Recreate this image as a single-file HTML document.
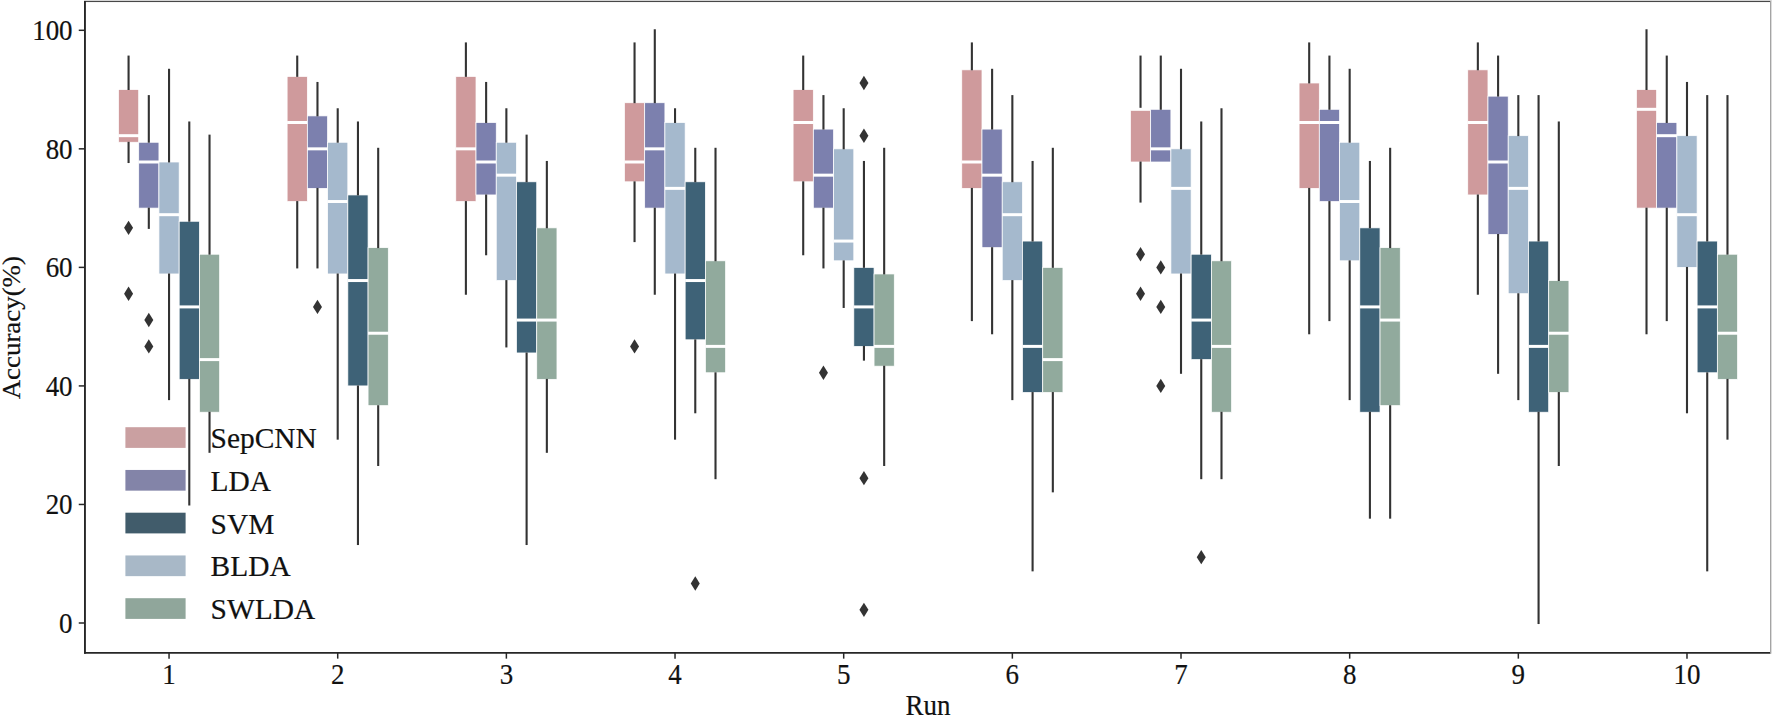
<!DOCTYPE html>
<html><head><meta charset="utf-8"><title>Accuracy by Run</title>
<style>html,body{margin:0;padding:0;background:#fff}svg{display:block}</style></head>
<body>
<svg width="1772" height="718" viewBox="0 0 1772 718">
<rect width="1772" height="718" fill="#fff"/>
<rect x="118.45" y="89.57" width="20.24" height="52.69" fill="#cf9a9c" stroke="#fff" stroke-width="0.75"/>
<line x1="128.57" x2="128.57" y1="56.62" y2="88.97" stroke="#333333" stroke-width="2.1" stroke-linecap="square"/>
<line x1="128.57" x2="128.57" y1="142.86" y2="162.00" stroke="#333333" stroke-width="2.1" stroke-linecap="square"/>
<line x1="118.45" x2="139.09" y1="135.68" y2="135.68" stroke="#fff" stroke-width="3.0"/>
<path d="M128.57 220.65L133.07 227.85L128.57 235.05L124.07 227.85Z" fill="#333333"/>
<path d="M128.57 286.50L133.07 293.70L128.57 300.90L124.07 293.70Z" fill="#333333"/>
<rect x="138.69" y="142.26" width="20.24" height="65.85" fill="#7c80ae" stroke="#fff" stroke-width="0.75"/>
<line x1="148.81" x2="148.81" y1="96.15" y2="141.66" stroke="#333333" stroke-width="2.1" stroke-linecap="square"/>
<line x1="148.81" x2="148.81" y1="208.71" y2="227.85" stroke="#333333" stroke-width="2.1" stroke-linecap="square"/>
<line x1="138.69" x2="159.33" y1="162.00" y2="162.00" stroke="#fff" stroke-width="3.0"/>
<path d="M148.81 312.87L153.31 320.07L148.81 327.27L144.31 320.07Z" fill="#333333"/>
<path d="M148.81 339.19L153.31 346.39L148.81 353.59L144.31 346.39Z" fill="#333333"/>
<rect x="158.93" y="162.00" width="20.24" height="111.96" fill="#a5b9cd" stroke="#fff" stroke-width="0.75"/>
<line x1="169.05" x2="169.05" y1="69.83" y2="161.40" stroke="#333333" stroke-width="2.1" stroke-linecap="square"/>
<line x1="169.05" x2="169.05" y1="274.56" y2="399.08" stroke="#333333" stroke-width="2.1" stroke-linecap="square"/>
<line x1="158.93" x2="179.57" y1="214.69" y2="214.69" stroke="#fff" stroke-width="3.0"/>
<rect x="179.17" y="221.27" width="20.24" height="158.07" fill="#3e6277" stroke="#fff" stroke-width="0.75"/>
<line x1="189.29" x2="189.29" y1="122.52" y2="220.67" stroke="#333333" stroke-width="2.1" stroke-linecap="square"/>
<line x1="189.29" x2="189.29" y1="379.94" y2="504.46" stroke="#333333" stroke-width="2.1" stroke-linecap="square"/>
<line x1="179.17" x2="199.81" y1="306.91" y2="306.91" stroke="#fff" stroke-width="3.0"/>
<rect x="199.41" y="254.22" width="20.24" height="158.01" fill="#91aa9d" stroke="#fff" stroke-width="0.75"/>
<line x1="209.53" x2="209.53" y1="135.68" y2="253.62" stroke="#333333" stroke-width="2.1" stroke-linecap="square"/>
<line x1="209.53" x2="209.53" y1="412.84" y2="451.77" stroke="#333333" stroke-width="2.1" stroke-linecap="square"/>
<line x1="199.41" x2="220.05" y1="359.60" y2="359.60" stroke="#fff" stroke-width="3.0"/>
<rect x="287.11" y="76.41" width="20.24" height="125.12" fill="#cf9a9c" stroke="#fff" stroke-width="0.75"/>
<line x1="297.23" x2="297.23" y1="56.62" y2="75.81" stroke="#333333" stroke-width="2.1" stroke-linecap="square"/>
<line x1="297.23" x2="297.23" y1="202.13" y2="267.38" stroke="#333333" stroke-width="2.1" stroke-linecap="square"/>
<line x1="287.11" x2="307.75" y1="122.52" y2="122.52" stroke="#fff" stroke-width="3.0"/>
<rect x="307.35" y="115.89" width="20.24" height="72.49" fill="#7c80ae" stroke="#fff" stroke-width="0.75"/>
<line x1="317.47" x2="317.47" y1="82.99" y2="115.29" stroke="#333333" stroke-width="2.1" stroke-linecap="square"/>
<line x1="317.47" x2="317.47" y1="188.97" y2="267.38" stroke="#333333" stroke-width="2.1" stroke-linecap="square"/>
<line x1="307.35" x2="327.99" y1="148.84" y2="148.84" stroke="#fff" stroke-width="3.0"/>
<path d="M317.47 299.71L321.97 306.91L317.47 314.11L312.97 306.91Z" fill="#333333"/>
<rect x="327.59" y="142.26" width="20.24" height="131.70" fill="#a5b9cd" stroke="#fff" stroke-width="0.75"/>
<line x1="337.71" x2="337.71" y1="109.31" y2="141.66" stroke="#333333" stroke-width="2.1" stroke-linecap="square"/>
<line x1="337.71" x2="337.71" y1="274.56" y2="438.61" stroke="#333333" stroke-width="2.1" stroke-linecap="square"/>
<line x1="327.59" x2="348.23" y1="201.53" y2="201.53" stroke="#fff" stroke-width="3.0"/>
<rect x="347.83" y="194.95" width="20.24" height="190.97" fill="#3e6277" stroke="#fff" stroke-width="0.75"/>
<line x1="357.95" x2="357.95" y1="122.52" y2="194.35" stroke="#333333" stroke-width="2.1" stroke-linecap="square"/>
<line x1="357.95" x2="357.95" y1="386.52" y2="543.99" stroke="#333333" stroke-width="2.1" stroke-linecap="square"/>
<line x1="347.83" x2="368.47" y1="280.54" y2="280.54" stroke="#fff" stroke-width="3.0"/>
<rect x="368.07" y="247.64" width="20.24" height="158.01" fill="#91aa9d" stroke="#fff" stroke-width="0.75"/>
<line x1="378.19" x2="378.19" y1="148.84" y2="247.04" stroke="#333333" stroke-width="2.1" stroke-linecap="square"/>
<line x1="378.19" x2="378.19" y1="406.26" y2="464.93" stroke="#333333" stroke-width="2.1" stroke-linecap="square"/>
<line x1="368.07" x2="388.71" y1="333.23" y2="333.23" stroke="#fff" stroke-width="3.0"/>
<rect x="455.77" y="76.41" width="20.24" height="125.12" fill="#cf9a9c" stroke="#fff" stroke-width="0.75"/>
<line x1="465.89" x2="465.89" y1="43.46" y2="75.81" stroke="#333333" stroke-width="2.1" stroke-linecap="square"/>
<line x1="465.89" x2="465.89" y1="202.13" y2="293.70" stroke="#333333" stroke-width="2.1" stroke-linecap="square"/>
<line x1="455.77" x2="476.41" y1="148.84" y2="148.84" stroke="#fff" stroke-width="3.0"/>
<rect x="476.01" y="122.52" width="20.24" height="72.43" fill="#7c80ae" stroke="#fff" stroke-width="0.75"/>
<line x1="486.13" x2="486.13" y1="82.99" y2="121.92" stroke="#333333" stroke-width="2.1" stroke-linecap="square"/>
<line x1="486.13" x2="486.13" y1="195.55" y2="254.22" stroke="#333333" stroke-width="2.1" stroke-linecap="square"/>
<line x1="476.01" x2="496.65" y1="162.00" y2="162.00" stroke="#fff" stroke-width="3.0"/>
<rect x="496.25" y="142.26" width="20.24" height="138.28" fill="#a5b9cd" stroke="#fff" stroke-width="0.75"/>
<line x1="506.37" x2="506.37" y1="109.31" y2="141.66" stroke="#333333" stroke-width="2.1" stroke-linecap="square"/>
<line x1="506.37" x2="506.37" y1="281.14" y2="346.39" stroke="#333333" stroke-width="2.1" stroke-linecap="square"/>
<line x1="496.25" x2="516.89" y1="175.16" y2="175.16" stroke="#fff" stroke-width="3.0"/>
<rect x="516.49" y="181.79" width="20.24" height="171.17" fill="#3e6277" stroke="#fff" stroke-width="0.75"/>
<line x1="526.61" x2="526.61" y1="135.68" y2="181.19" stroke="#333333" stroke-width="2.1" stroke-linecap="square"/>
<line x1="526.61" x2="526.61" y1="353.57" y2="543.99" stroke="#333333" stroke-width="2.1" stroke-linecap="square"/>
<line x1="516.49" x2="537.13" y1="320.07" y2="320.07" stroke="#fff" stroke-width="3.0"/>
<rect x="536.73" y="227.85" width="20.24" height="151.49" fill="#91aa9d" stroke="#fff" stroke-width="0.75"/>
<line x1="546.85" x2="546.85" y1="162.00" y2="227.25" stroke="#333333" stroke-width="2.1" stroke-linecap="square"/>
<line x1="546.85" x2="546.85" y1="379.94" y2="451.77" stroke="#333333" stroke-width="2.1" stroke-linecap="square"/>
<line x1="536.73" x2="557.37" y1="320.07" y2="320.07" stroke="#fff" stroke-width="3.0"/>
<rect x="624.43" y="102.73" width="20.24" height="79.07" fill="#cf9a9c" stroke="#fff" stroke-width="0.75"/>
<line x1="634.55" x2="634.55" y1="43.46" y2="102.13" stroke="#333333" stroke-width="2.1" stroke-linecap="square"/>
<line x1="634.55" x2="634.55" y1="182.39" y2="241.06" stroke="#333333" stroke-width="2.1" stroke-linecap="square"/>
<line x1="624.43" x2="645.07" y1="162.00" y2="162.00" stroke="#fff" stroke-width="3.0"/>
<path d="M634.55 339.19L639.05 346.39L634.55 353.59L630.05 346.39Z" fill="#333333"/>
<rect x="644.67" y="102.73" width="20.24" height="105.38" fill="#7c80ae" stroke="#fff" stroke-width="0.75"/>
<line x1="654.79" x2="654.79" y1="30.30" y2="102.13" stroke="#333333" stroke-width="2.1" stroke-linecap="square"/>
<line x1="654.79" x2="654.79" y1="208.71" y2="293.70" stroke="#333333" stroke-width="2.1" stroke-linecap="square"/>
<line x1="644.67" x2="665.31" y1="148.84" y2="148.84" stroke="#fff" stroke-width="3.0"/>
<rect x="664.91" y="122.52" width="20.24" height="151.43" fill="#a5b9cd" stroke="#fff" stroke-width="0.75"/>
<line x1="675.03" x2="675.03" y1="109.31" y2="121.92" stroke="#333333" stroke-width="2.1" stroke-linecap="square"/>
<line x1="675.03" x2="675.03" y1="274.56" y2="438.61" stroke="#333333" stroke-width="2.1" stroke-linecap="square"/>
<line x1="664.91" x2="685.55" y1="188.37" y2="188.37" stroke="#fff" stroke-width="3.0"/>
<rect x="685.15" y="181.79" width="20.24" height="158.01" fill="#3e6277" stroke="#fff" stroke-width="0.75"/>
<line x1="695.27" x2="695.27" y1="148.84" y2="181.19" stroke="#333333" stroke-width="2.1" stroke-linecap="square"/>
<line x1="695.27" x2="695.27" y1="340.41" y2="412.24" stroke="#333333" stroke-width="2.1" stroke-linecap="square"/>
<line x1="685.15" x2="705.79" y1="280.54" y2="280.54" stroke="#fff" stroke-width="3.0"/>
<path d="M695.27 576.27L699.77 583.47L695.27 590.67L690.77 583.47Z" fill="#333333"/>
<rect x="705.39" y="260.80" width="20.24" height="111.96" fill="#91aa9d" stroke="#fff" stroke-width="0.75"/>
<line x1="715.51" x2="715.51" y1="148.84" y2="260.20" stroke="#333333" stroke-width="2.1" stroke-linecap="square"/>
<line x1="715.51" x2="715.51" y1="373.36" y2="478.14" stroke="#333333" stroke-width="2.1" stroke-linecap="square"/>
<line x1="705.39" x2="726.03" y1="346.39" y2="346.39" stroke="#fff" stroke-width="3.0"/>
<rect x="793.09" y="89.57" width="20.24" height="92.22" fill="#cf9a9c" stroke="#fff" stroke-width="0.75"/>
<line x1="803.21" x2="803.21" y1="56.62" y2="88.97" stroke="#333333" stroke-width="2.1" stroke-linecap="square"/>
<line x1="803.21" x2="803.21" y1="182.39" y2="254.22" stroke="#333333" stroke-width="2.1" stroke-linecap="square"/>
<line x1="793.09" x2="813.73" y1="122.52" y2="122.52" stroke="#fff" stroke-width="3.0"/>
<rect x="813.33" y="129.10" width="20.24" height="79.01" fill="#7c80ae" stroke="#fff" stroke-width="0.75"/>
<line x1="823.45" x2="823.45" y1="96.15" y2="128.50" stroke="#333333" stroke-width="2.1" stroke-linecap="square"/>
<line x1="823.45" x2="823.45" y1="208.71" y2="267.38" stroke="#333333" stroke-width="2.1" stroke-linecap="square"/>
<line x1="813.33" x2="833.97" y1="175.16" y2="175.16" stroke="#fff" stroke-width="3.0"/>
<path d="M823.45 365.56L827.95 372.76L823.45 379.96L818.95 372.76Z" fill="#333333"/>
<rect x="833.57" y="148.84" width="20.24" height="111.96" fill="#a5b9cd" stroke="#fff" stroke-width="0.75"/>
<line x1="843.69" x2="843.69" y1="109.31" y2="148.24" stroke="#333333" stroke-width="2.1" stroke-linecap="square"/>
<line x1="843.69" x2="843.69" y1="261.40" y2="306.91" stroke="#333333" stroke-width="2.1" stroke-linecap="square"/>
<line x1="833.57" x2="854.21" y1="241.06" y2="241.06" stroke="#fff" stroke-width="3.0"/>
<rect x="853.81" y="267.38" width="20.24" height="79.01" fill="#3e6277" stroke="#fff" stroke-width="0.75"/>
<line x1="863.93" x2="863.93" y1="162.00" y2="266.78" stroke="#333333" stroke-width="2.1" stroke-linecap="square"/>
<line x1="863.93" x2="863.93" y1="346.99" y2="359.60" stroke="#333333" stroke-width="2.1" stroke-linecap="square"/>
<line x1="853.81" x2="874.45" y1="306.91" y2="306.91" stroke="#fff" stroke-width="3.0"/>
<path d="M863.93 75.79L868.43 82.99L863.93 90.19L859.43 82.99Z" fill="#333333"/>
<path d="M863.93 128.48L868.43 135.68L863.93 142.88L859.43 135.68Z" fill="#333333"/>
<path d="M863.93 470.94L868.43 478.14L863.93 485.34L859.43 478.14Z" fill="#333333"/>
<path d="M863.93 602.64L868.43 609.84L863.93 617.04L859.43 609.84Z" fill="#333333"/>
<rect x="874.05" y="273.96" width="20.24" height="92.22" fill="#91aa9d" stroke="#fff" stroke-width="0.75"/>
<line x1="884.17" x2="884.17" y1="148.84" y2="273.36" stroke="#333333" stroke-width="2.1" stroke-linecap="square"/>
<line x1="884.17" x2="884.17" y1="366.78" y2="464.93" stroke="#333333" stroke-width="2.1" stroke-linecap="square"/>
<line x1="874.05" x2="894.69" y1="346.39" y2="346.39" stroke="#fff" stroke-width="3.0"/>
<rect x="961.75" y="69.83" width="20.24" height="118.54" fill="#cf9a9c" stroke="#fff" stroke-width="0.75"/>
<line x1="971.87" x2="971.87" y1="43.46" y2="69.23" stroke="#333333" stroke-width="2.1" stroke-linecap="square"/>
<line x1="971.87" x2="971.87" y1="188.97" y2="320.07" stroke="#333333" stroke-width="2.1" stroke-linecap="square"/>
<line x1="961.75" x2="982.39" y1="162.00" y2="162.00" stroke="#fff" stroke-width="3.0"/>
<rect x="981.99" y="129.10" width="20.24" height="118.54" fill="#7c80ae" stroke="#fff" stroke-width="0.75"/>
<line x1="992.11" x2="992.11" y1="69.83" y2="128.50" stroke="#333333" stroke-width="2.1" stroke-linecap="square"/>
<line x1="992.11" x2="992.11" y1="248.24" y2="333.23" stroke="#333333" stroke-width="2.1" stroke-linecap="square"/>
<line x1="981.99" x2="1002.63" y1="175.16" y2="175.16" stroke="#fff" stroke-width="3.0"/>
<rect x="1002.23" y="181.79" width="20.24" height="98.74" fill="#a5b9cd" stroke="#fff" stroke-width="0.75"/>
<line x1="1012.35" x2="1012.35" y1="96.15" y2="181.19" stroke="#333333" stroke-width="2.1" stroke-linecap="square"/>
<line x1="1012.35" x2="1012.35" y1="281.14" y2="399.08" stroke="#333333" stroke-width="2.1" stroke-linecap="square"/>
<line x1="1002.23" x2="1022.87" y1="214.69" y2="214.69" stroke="#fff" stroke-width="3.0"/>
<rect x="1022.47" y="241.06" width="20.24" height="151.43" fill="#3e6277" stroke="#fff" stroke-width="0.75"/>
<line x1="1032.59" x2="1032.59" y1="162.00" y2="240.46" stroke="#333333" stroke-width="2.1" stroke-linecap="square"/>
<line x1="1032.59" x2="1032.59" y1="393.10" y2="570.31" stroke="#333333" stroke-width="2.1" stroke-linecap="square"/>
<line x1="1022.47" x2="1043.11" y1="346.39" y2="346.39" stroke="#fff" stroke-width="3.0"/>
<rect x="1042.71" y="267.38" width="20.24" height="125.12" fill="#91aa9d" stroke="#fff" stroke-width="0.75"/>
<line x1="1052.83" x2="1052.83" y1="148.84" y2="266.78" stroke="#333333" stroke-width="2.1" stroke-linecap="square"/>
<line x1="1052.83" x2="1052.83" y1="393.10" y2="491.30" stroke="#333333" stroke-width="2.1" stroke-linecap="square"/>
<line x1="1042.71" x2="1063.35" y1="359.60" y2="359.60" stroke="#fff" stroke-width="3.0"/>
<rect x="1130.41" y="109.31" width="20.24" height="52.69" fill="#cf9a9c" stroke="#fff" stroke-width="0.75"/>
<line x1="1140.53" x2="1140.53" y1="56.62" y2="108.71" stroke="#333333" stroke-width="2.1" stroke-linecap="square"/>
<line x1="1140.53" x2="1140.53" y1="162.60" y2="201.53" stroke="#333333" stroke-width="2.1" stroke-linecap="square"/>
<line x1="1130.41" x2="1151.05" y1="109.31" y2="109.31" stroke="#fff" stroke-width="3.0"/>
<path d="M1140.53 247.02L1145.03 254.22L1140.53 261.42L1136.03 254.22Z" fill="#333333"/>
<path d="M1140.53 286.50L1145.03 293.70L1140.53 300.90L1136.03 293.70Z" fill="#333333"/>
<rect x="1150.65" y="109.31" width="20.24" height="52.69" fill="#7c80ae" stroke="#fff" stroke-width="0.75"/>
<line x1="1160.77" x2="1160.77" y1="56.62" y2="108.71" stroke="#333333" stroke-width="2.1" stroke-linecap="square"/>
<line x1="1150.65" x2="1171.29" y1="148.84" y2="148.84" stroke="#fff" stroke-width="3.0"/>
<path d="M1160.77 260.18L1165.27 267.38L1160.77 274.58L1156.27 267.38Z" fill="#333333"/>
<path d="M1160.77 299.71L1165.27 306.91L1160.77 314.11L1156.27 306.91Z" fill="#333333"/>
<path d="M1160.77 378.72L1165.27 385.92L1160.77 393.12L1156.27 385.92Z" fill="#333333"/>
<rect x="1170.89" y="148.84" width="20.24" height="125.12" fill="#a5b9cd" stroke="#fff" stroke-width="0.75"/>
<line x1="1181.01" x2="1181.01" y1="69.83" y2="148.24" stroke="#333333" stroke-width="2.1" stroke-linecap="square"/>
<line x1="1181.01" x2="1181.01" y1="274.56" y2="372.76" stroke="#333333" stroke-width="2.1" stroke-linecap="square"/>
<line x1="1170.89" x2="1191.53" y1="188.37" y2="188.37" stroke="#fff" stroke-width="3.0"/>
<rect x="1191.13" y="254.22" width="20.24" height="105.38" fill="#3e6277" stroke="#fff" stroke-width="0.75"/>
<line x1="1201.25" x2="1201.25" y1="122.52" y2="253.62" stroke="#333333" stroke-width="2.1" stroke-linecap="square"/>
<line x1="1201.25" x2="1201.25" y1="360.20" y2="478.14" stroke="#333333" stroke-width="2.1" stroke-linecap="square"/>
<line x1="1191.13" x2="1211.77" y1="320.07" y2="320.07" stroke="#fff" stroke-width="3.0"/>
<path d="M1201.25 549.95L1205.75 557.15L1201.25 564.35L1196.75 557.15Z" fill="#333333"/>
<rect x="1211.37" y="260.80" width="20.24" height="151.43" fill="#91aa9d" stroke="#fff" stroke-width="0.75"/>
<line x1="1221.49" x2="1221.49" y1="109.31" y2="260.20" stroke="#333333" stroke-width="2.1" stroke-linecap="square"/>
<line x1="1221.49" x2="1221.49" y1="412.84" y2="478.14" stroke="#333333" stroke-width="2.1" stroke-linecap="square"/>
<line x1="1211.37" x2="1232.01" y1="346.39" y2="346.39" stroke="#fff" stroke-width="3.0"/>
<rect x="1299.07" y="82.99" width="20.24" height="105.38" fill="#cf9a9c" stroke="#fff" stroke-width="0.75"/>
<line x1="1309.19" x2="1309.19" y1="43.46" y2="82.39" stroke="#333333" stroke-width="2.1" stroke-linecap="square"/>
<line x1="1309.19" x2="1309.19" y1="188.97" y2="333.23" stroke="#333333" stroke-width="2.1" stroke-linecap="square"/>
<line x1="1299.07" x2="1319.71" y1="122.52" y2="122.52" stroke="#fff" stroke-width="3.0"/>
<rect x="1319.31" y="109.31" width="20.24" height="92.22" fill="#7c80ae" stroke="#fff" stroke-width="0.75"/>
<line x1="1329.43" x2="1329.43" y1="56.62" y2="108.71" stroke="#333333" stroke-width="2.1" stroke-linecap="square"/>
<line x1="1329.43" x2="1329.43" y1="202.13" y2="320.07" stroke="#333333" stroke-width="2.1" stroke-linecap="square"/>
<line x1="1319.31" x2="1339.95" y1="122.52" y2="122.52" stroke="#fff" stroke-width="3.0"/>
<rect x="1339.55" y="142.26" width="20.24" height="118.54" fill="#a5b9cd" stroke="#fff" stroke-width="0.75"/>
<line x1="1349.67" x2="1349.67" y1="69.83" y2="141.66" stroke="#333333" stroke-width="2.1" stroke-linecap="square"/>
<line x1="1349.67" x2="1349.67" y1="261.40" y2="399.08" stroke="#333333" stroke-width="2.1" stroke-linecap="square"/>
<line x1="1339.55" x2="1360.19" y1="201.53" y2="201.53" stroke="#fff" stroke-width="3.0"/>
<rect x="1359.79" y="227.85" width="20.24" height="184.39" fill="#3e6277" stroke="#fff" stroke-width="0.75"/>
<line x1="1369.91" x2="1369.91" y1="162.00" y2="227.25" stroke="#333333" stroke-width="2.1" stroke-linecap="square"/>
<line x1="1369.91" x2="1369.91" y1="412.84" y2="517.62" stroke="#333333" stroke-width="2.1" stroke-linecap="square"/>
<line x1="1359.79" x2="1380.43" y1="306.91" y2="306.91" stroke="#fff" stroke-width="3.0"/>
<rect x="1380.03" y="247.64" width="20.24" height="158.01" fill="#91aa9d" stroke="#fff" stroke-width="0.75"/>
<line x1="1390.15" x2="1390.15" y1="148.84" y2="247.04" stroke="#333333" stroke-width="2.1" stroke-linecap="square"/>
<line x1="1390.15" x2="1390.15" y1="406.26" y2="517.62" stroke="#333333" stroke-width="2.1" stroke-linecap="square"/>
<line x1="1380.03" x2="1400.67" y1="320.07" y2="320.07" stroke="#fff" stroke-width="3.0"/>
<rect x="1467.73" y="69.83" width="20.24" height="125.12" fill="#cf9a9c" stroke="#fff" stroke-width="0.75"/>
<line x1="1477.85" x2="1477.85" y1="43.46" y2="69.23" stroke="#333333" stroke-width="2.1" stroke-linecap="square"/>
<line x1="1477.85" x2="1477.85" y1="195.55" y2="293.70" stroke="#333333" stroke-width="2.1" stroke-linecap="square"/>
<line x1="1467.73" x2="1488.37" y1="122.52" y2="122.52" stroke="#fff" stroke-width="3.0"/>
<rect x="1487.97" y="96.15" width="20.24" height="138.28" fill="#7c80ae" stroke="#fff" stroke-width="0.75"/>
<line x1="1498.09" x2="1498.09" y1="56.62" y2="95.55" stroke="#333333" stroke-width="2.1" stroke-linecap="square"/>
<line x1="1498.09" x2="1498.09" y1="235.03" y2="372.76" stroke="#333333" stroke-width="2.1" stroke-linecap="square"/>
<line x1="1487.97" x2="1508.61" y1="162.00" y2="162.00" stroke="#fff" stroke-width="3.0"/>
<rect x="1508.21" y="135.68" width="20.24" height="158.01" fill="#a5b9cd" stroke="#fff" stroke-width="0.75"/>
<line x1="1518.33" x2="1518.33" y1="96.15" y2="135.08" stroke="#333333" stroke-width="2.1" stroke-linecap="square"/>
<line x1="1518.33" x2="1518.33" y1="294.30" y2="399.08" stroke="#333333" stroke-width="2.1" stroke-linecap="square"/>
<line x1="1508.21" x2="1528.85" y1="188.37" y2="188.37" stroke="#fff" stroke-width="3.0"/>
<rect x="1528.45" y="241.06" width="20.24" height="171.17" fill="#3e6277" stroke="#fff" stroke-width="0.75"/>
<line x1="1538.57" x2="1538.57" y1="96.15" y2="240.46" stroke="#333333" stroke-width="2.1" stroke-linecap="square"/>
<line x1="1538.57" x2="1538.57" y1="412.84" y2="623.00" stroke="#333333" stroke-width="2.1" stroke-linecap="square"/>
<line x1="1528.45" x2="1549.09" y1="346.39" y2="346.39" stroke="#fff" stroke-width="3.0"/>
<rect x="1548.69" y="280.54" width="20.24" height="111.96" fill="#91aa9d" stroke="#fff" stroke-width="0.75"/>
<line x1="1558.81" x2="1558.81" y1="122.52" y2="279.94" stroke="#333333" stroke-width="2.1" stroke-linecap="square"/>
<line x1="1558.81" x2="1558.81" y1="393.10" y2="464.93" stroke="#333333" stroke-width="2.1" stroke-linecap="square"/>
<line x1="1548.69" x2="1569.33" y1="333.23" y2="333.23" stroke="#fff" stroke-width="3.0"/>
<rect x="1636.39" y="89.57" width="20.24" height="118.54" fill="#cf9a9c" stroke="#fff" stroke-width="0.75"/>
<line x1="1646.51" x2="1646.51" y1="30.30" y2="88.97" stroke="#333333" stroke-width="2.1" stroke-linecap="square"/>
<line x1="1646.51" x2="1646.51" y1="208.71" y2="333.23" stroke="#333333" stroke-width="2.1" stroke-linecap="square"/>
<line x1="1636.39" x2="1657.03" y1="109.31" y2="109.31" stroke="#fff" stroke-width="3.0"/>
<rect x="1656.63" y="122.52" width="20.24" height="85.59" fill="#7c80ae" stroke="#fff" stroke-width="0.75"/>
<line x1="1666.75" x2="1666.75" y1="56.62" y2="121.92" stroke="#333333" stroke-width="2.1" stroke-linecap="square"/>
<line x1="1666.75" x2="1666.75" y1="208.71" y2="320.07" stroke="#333333" stroke-width="2.1" stroke-linecap="square"/>
<line x1="1656.63" x2="1677.27" y1="135.68" y2="135.68" stroke="#fff" stroke-width="3.0"/>
<rect x="1676.87" y="135.68" width="20.24" height="131.70" fill="#a5b9cd" stroke="#fff" stroke-width="0.75"/>
<line x1="1686.99" x2="1686.99" y1="82.99" y2="135.08" stroke="#333333" stroke-width="2.1" stroke-linecap="square"/>
<line x1="1686.99" x2="1686.99" y1="267.98" y2="412.24" stroke="#333333" stroke-width="2.1" stroke-linecap="square"/>
<line x1="1676.87" x2="1697.51" y1="214.69" y2="214.69" stroke="#fff" stroke-width="3.0"/>
<rect x="1697.11" y="241.06" width="20.24" height="131.70" fill="#3e6277" stroke="#fff" stroke-width="0.75"/>
<line x1="1707.23" x2="1707.23" y1="96.15" y2="240.46" stroke="#333333" stroke-width="2.1" stroke-linecap="square"/>
<line x1="1707.23" x2="1707.23" y1="373.36" y2="570.31" stroke="#333333" stroke-width="2.1" stroke-linecap="square"/>
<line x1="1697.11" x2="1717.75" y1="306.91" y2="306.91" stroke="#fff" stroke-width="3.0"/>
<rect x="1717.35" y="254.22" width="20.24" height="125.12" fill="#91aa9d" stroke="#fff" stroke-width="0.75"/>
<line x1="1727.47" x2="1727.47" y1="96.15" y2="253.62" stroke="#333333" stroke-width="2.1" stroke-linecap="square"/>
<line x1="1727.47" x2="1727.47" y1="379.94" y2="438.61" stroke="#333333" stroke-width="2.1" stroke-linecap="square"/>
<line x1="1717.35" x2="1737.99" y1="333.23" y2="333.23" stroke="#fff" stroke-width="3.0"/>
<rect x="84.05" y="0" width="1687.95" height="1" fill="#dedede"/>
<rect x="84.05" y="0.95" width="1686.95" height="1.1" fill="#484848"/>
<path d="M84.95 0.9V653.75" stroke="#262626" stroke-width="1.9" fill="none"/>
<path d="M84.05 652.85H1770.5" stroke="#262626" stroke-width="1.8" fill="none"/>
<rect x="1770" y="1" width="1" height="652.65" fill="#a4a4a4"/>
<rect x="1771" y="1" width="1" height="652.65" fill="#dcdcdc"/>
<line x1="78.75" x2="84.95" y1="623.00" y2="623.00" stroke="#262626" stroke-width="1.5"/>
<text transform="translate(72.60 632.90) scale(0.95 1)" text-anchor="end" font-size="28.4" font-family="Liberation Serif, Times New Roman, serif" fill="#111" stroke="#111" stroke-width="0.2">0</text>
<line x1="78.75" x2="84.95" y1="504.46" y2="504.46" stroke="#262626" stroke-width="1.5"/>
<text transform="translate(72.60 514.36) scale(0.95 1)" text-anchor="end" font-size="28.4" font-family="Liberation Serif, Times New Roman, serif" fill="#111" stroke="#111" stroke-width="0.2">20</text>
<line x1="78.75" x2="84.95" y1="385.92" y2="385.92" stroke="#262626" stroke-width="1.5"/>
<text transform="translate(72.60 395.82) scale(0.95 1)" text-anchor="end" font-size="28.4" font-family="Liberation Serif, Times New Roman, serif" fill="#111" stroke="#111" stroke-width="0.2">40</text>
<line x1="78.75" x2="84.95" y1="267.38" y2="267.38" stroke="#262626" stroke-width="1.5"/>
<text transform="translate(72.60 277.28) scale(0.95 1)" text-anchor="end" font-size="28.4" font-family="Liberation Serif, Times New Roman, serif" fill="#111" stroke="#111" stroke-width="0.2">60</text>
<line x1="78.75" x2="84.95" y1="148.84" y2="148.84" stroke="#262626" stroke-width="1.5"/>
<text transform="translate(72.60 158.74) scale(0.95 1)" text-anchor="end" font-size="28.4" font-family="Liberation Serif, Times New Roman, serif" fill="#111" stroke="#111" stroke-width="0.2">80</text>
<line x1="78.75" x2="84.95" y1="30.30" y2="30.30" stroke="#262626" stroke-width="1.5"/>
<text transform="translate(72.60 40.20) scale(0.95 1)" text-anchor="end" font-size="28.4" font-family="Liberation Serif, Times New Roman, serif" fill="#111" stroke="#111" stroke-width="0.2">100</text>
<line x1="169.05" x2="169.05" y1="652.85" y2="658.65" stroke="#262626" stroke-width="1.5"/>
<text transform="translate(169.05 683.80) scale(0.95 1)" text-anchor="middle" font-size="28.4" font-family="Liberation Serif, Times New Roman, serif" fill="#111" stroke="#111" stroke-width="0.2">1</text>
<line x1="337.71" x2="337.71" y1="652.85" y2="658.65" stroke="#262626" stroke-width="1.5"/>
<text transform="translate(337.71 683.80) scale(0.95 1)" text-anchor="middle" font-size="28.4" font-family="Liberation Serif, Times New Roman, serif" fill="#111" stroke="#111" stroke-width="0.2">2</text>
<line x1="506.37" x2="506.37" y1="652.85" y2="658.65" stroke="#262626" stroke-width="1.5"/>
<text transform="translate(506.37 683.80) scale(0.95 1)" text-anchor="middle" font-size="28.4" font-family="Liberation Serif, Times New Roman, serif" fill="#111" stroke="#111" stroke-width="0.2">3</text>
<line x1="675.03" x2="675.03" y1="652.85" y2="658.65" stroke="#262626" stroke-width="1.5"/>
<text transform="translate(675.03 683.80) scale(0.95 1)" text-anchor="middle" font-size="28.4" font-family="Liberation Serif, Times New Roman, serif" fill="#111" stroke="#111" stroke-width="0.2">4</text>
<line x1="843.69" x2="843.69" y1="652.85" y2="658.65" stroke="#262626" stroke-width="1.5"/>
<text transform="translate(843.69 683.80) scale(0.95 1)" text-anchor="middle" font-size="28.4" font-family="Liberation Serif, Times New Roman, serif" fill="#111" stroke="#111" stroke-width="0.2">5</text>
<line x1="1012.35" x2="1012.35" y1="652.85" y2="658.65" stroke="#262626" stroke-width="1.5"/>
<text transform="translate(1012.35 683.80) scale(0.95 1)" text-anchor="middle" font-size="28.4" font-family="Liberation Serif, Times New Roman, serif" fill="#111" stroke="#111" stroke-width="0.2">6</text>
<line x1="1181.01" x2="1181.01" y1="652.85" y2="658.65" stroke="#262626" stroke-width="1.5"/>
<text transform="translate(1181.01 683.80) scale(0.95 1)" text-anchor="middle" font-size="28.4" font-family="Liberation Serif, Times New Roman, serif" fill="#111" stroke="#111" stroke-width="0.2">7</text>
<line x1="1349.67" x2="1349.67" y1="652.85" y2="658.65" stroke="#262626" stroke-width="1.5"/>
<text transform="translate(1349.67 683.80) scale(0.95 1)" text-anchor="middle" font-size="28.4" font-family="Liberation Serif, Times New Roman, serif" fill="#111" stroke="#111" stroke-width="0.2">8</text>
<line x1="1518.33" x2="1518.33" y1="652.85" y2="658.65" stroke="#262626" stroke-width="1.5"/>
<text transform="translate(1518.33 683.80) scale(0.95 1)" text-anchor="middle" font-size="28.4" font-family="Liberation Serif, Times New Roman, serif" fill="#111" stroke="#111" stroke-width="0.2">9</text>
<line x1="1686.99" x2="1686.99" y1="652.85" y2="658.65" stroke="#262626" stroke-width="1.5"/>
<text transform="translate(1686.99 683.80) scale(0.95 1)" text-anchor="middle" font-size="28.4" font-family="Liberation Serif, Times New Roman, serif" fill="#111" stroke="#111" stroke-width="0.2">10</text>
<text transform="translate(928.00 715.00) scale(0.95 1)" text-anchor="middle" font-size="28.4" font-family="Liberation Serif, Times New Roman, serif" fill="#111" stroke="#111" stroke-width="0.2">Run</text>
<text transform="translate(19.60 327.70) rotate(-90) scale(1.035 1)" text-anchor="middle" font-size="26" font-family="Liberation Serif, Times New Roman, serif" fill="#111" stroke="#111" stroke-width="0.2">Accuracy(%)</text>
<rect x="125.4" y="427.20" width="60.2" height="20.7" fill="#caa0a1"/>
<text transform="translate(210.60 448.20) scale(0.968 1)" text-anchor="start" font-size="30.4" font-family="Liberation Serif, Times New Roman, serif" fill="#111" stroke="#111" stroke-width="0.2">SepCNN</text>
<rect x="125.4" y="469.95" width="60.2" height="20.7" fill="#8384a8"/>
<text transform="translate(210.60 490.95) scale(0.968 1)" text-anchor="start" font-size="30.4" font-family="Liberation Serif, Times New Roman, serif" fill="#111" stroke="#111" stroke-width="0.2">LDA</text>
<rect x="125.4" y="512.70" width="60.2" height="20.7" fill="#415c6b"/>
<text transform="translate(210.60 533.70) scale(0.968 1)" text-anchor="start" font-size="30.4" font-family="Liberation Serif, Times New Roman, serif" fill="#111" stroke="#111" stroke-width="0.2">SVM</text>
<rect x="125.4" y="555.45" width="60.2" height="20.7" fill="#a8b8c7"/>
<text transform="translate(210.60 576.45) scale(0.968 1)" text-anchor="start" font-size="30.4" font-family="Liberation Serif, Times New Roman, serif" fill="#111" stroke="#111" stroke-width="0.2">BLDA</text>
<rect x="125.4" y="598.20" width="60.2" height="20.7" fill="#90a69b"/>
<text transform="translate(210.60 619.20) scale(0.968 1)" text-anchor="start" font-size="30.4" font-family="Liberation Serif, Times New Roman, serif" fill="#111" stroke="#111" stroke-width="0.2">SWLDA</text>
</svg>
</body></html>
